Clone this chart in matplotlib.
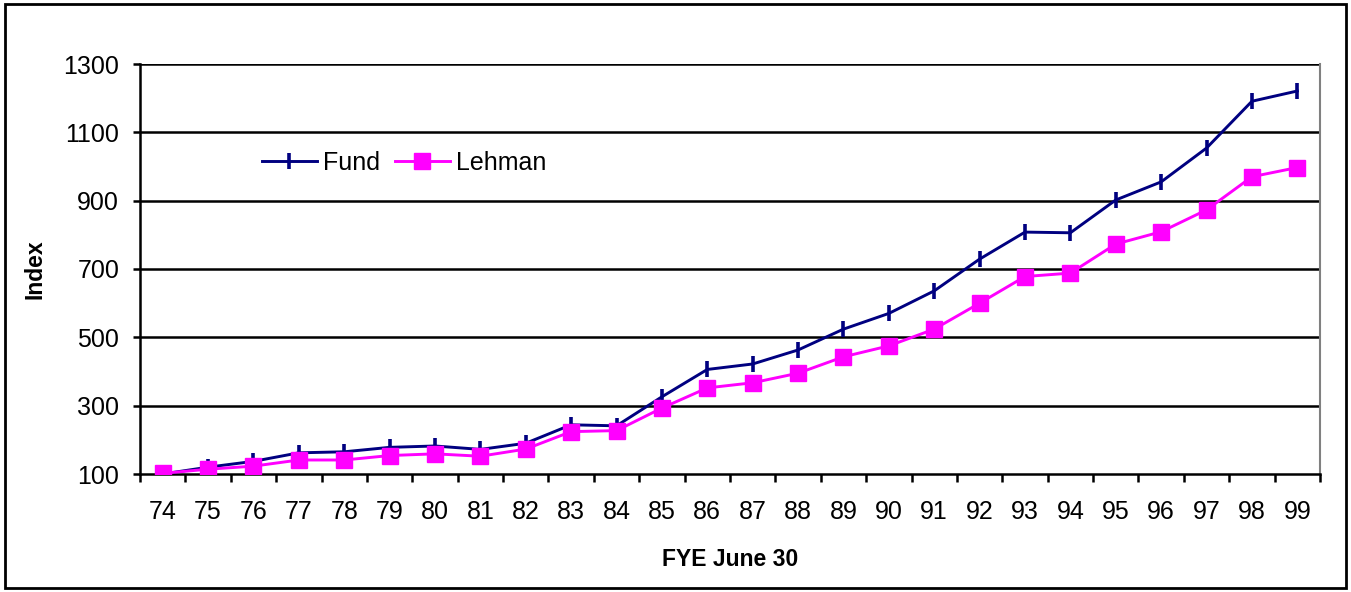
import numpy as np
import matplotlib
matplotlib.use("Agg")
import matplotlib.pyplot as plt
from matplotlib.patches import Rectangle

plt.rcParams["font.family"] = ["Liberation Sans", "DejaVu Sans"]

# 数据
years = ["74", "75", "76", "77", "78", "79", "80", "81", "82", "83", "84", "85", "86",
         "87", "88", "89", "90", "91", "92", "93", "94", "95", "96", "97", "98", "99"]
fund = [100, 120, 137, 162, 165, 178, 182, 172, 190, 244, 241, 326, 406, 422, 463,
        524, 570, 636, 729, 808, 806, 902, 955, 1054, 1191, 1221]
lehman = [102, 114, 123, 141, 141, 154, 159, 152, 173, 224, 227, 293, 352, 367, 395,
          443, 475, 524, 600, 678, 688, 773, 809, 873, 970, 997]
yticks = [100, 300, 500, 700, 900, 1100, 1300]

fig = plt.figure(figsize=(13.51, 5.92), dpi=100)
ax = fig.add_axes([140 / 1351, 1 - 474 / 592, 1180 / 1351, 410 / 592])

x = np.arange(len(years))
ax.plot(x, fund, color="#000080", lw=2.1, marker="|", ms=12, mew=2.6, label="Fund", zorder=3)
ax.plot(x, lehman, color="#FF00FF", lw=2.1, marker="s", ms=11, label="Lehman", zorder=3)

ax.set_ylim(100, 1300)
ax.set_xlim(-0.5, len(years) - 0.5)
ax.set_yticks(yticks)
ax.set_yticklabels([str(v) for v in yticks], fontsize=18)
for v in yticks[1:]:
    ax.axhline(v, color="black", lw=1.8, zorder=1)

# 类别刻度在边界上，标签居中
ax.set_xticks(np.arange(len(years) + 1) - 0.5)
ax.set_xticklabels([])
ax.set_xticks(x, minor=True)
ax.set_xticklabels(years, minor=True, fontsize=18)
ax.tick_params(axis="x", which="major", direction="out", length=6, width=1.8)
ax.tick_params(axis="x", which="minor", length=0, pad=19)
ax.tick_params(axis="y", direction="out", length=5, width=1.8, pad=10)

ax.spines["left"].set_linewidth(1.8)
ax.spines["bottom"].set_linewidth(1.8)
ax.spines["top"].set_visible(False)
ax.spines["right"].set_color("#808080")
ax.spines["right"].set_linewidth(1.5)

ax.set_xlabel("FYE June 30", fontsize=16.5, fontweight="bold", labelpad=17)
ax.set_ylabel("Index", fontsize=16.5, fontweight="bold", labelpad=12)

ax.legend(loc="center left", bbox_to_anchor=(0.103, 0.759), ncol=2, frameon=False,
          fontsize=18, handlelength=2.2, handletextpad=0.24, columnspacing=0.6,
          borderaxespad=0, borderpad=0)

# 外框
fig.patches.append(Rectangle((5 / 1351, 4 / 592), 1341 / 1351, 584 / 592,
                             transform=fig.transFigure, fill=False, ec="black", lw=2))

fig.savefig("out.png", dpi=100)
